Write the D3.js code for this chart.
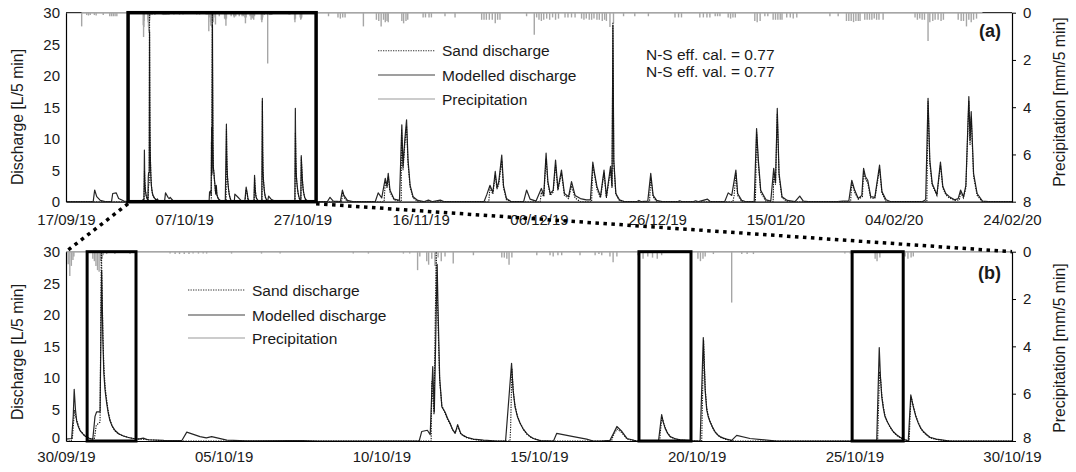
<!DOCTYPE html>
<html>
<head>
<meta charset="utf-8">
<script src="https://cdn.jsdelivr.net/npm/d3@7"></script>
<style>
  body { margin: 0; background: #fff; }
  text { font-family: "Liberation Sans", Arial, sans-serif; fill: #1a1a1a; }
</style>
</head>
<body>
<div id="chart"></div>
<script>

// All times are days since 17/09/19 00:00.
var topTicks = ["17/09/19", "07/10/19", "27/10/19", "16/11/19", "06/12/19", "26/12/19", "15/01/20", "04/02/20", "24/02/20"];
var bottomTicks = ["30/09/19", "05/10/19", "10/10/19", "15/10/19", "20/10/19", "25/10/19", "30/10/19"];
var dischargeTicks = [0, 5, 10, 15, 20, 25, 30];
var precipTicks = [0, 2, 4, 6, 8];
var legendLabels = ["Sand discharge", "Modelled discharge", "Precipitation"];
var nsLabels = ["N-S eff. cal. = 0.77", "N-S eff. val. = 0.77"];

// Modelled discharge [L/5 min]
var modelled = [
  [0,0],[4.6,0],[4.85,1.85],[5.2,0.8],[5.8,0.2],[6.6,0],
  [7.7,0],[7.9,1.3],[8.5,1.4],[8.9,0.5],[9.8,0.1],[11,0],
  [12.9,0.2],[13.0,0.3],[13.18,0.4],[13.23,4],[13.26,8.2],[13.3,5],[13.34,3.1],[13.39,2.3],[13.44,1.7],[13.52,1.2],
  [13.6,0.8],[13.75,0.4],[13.85,0.3],
  [13.92,3.9],[13.97,4.6],[14.08,4.6],[14.13,27],[14.17,16],[14.2,10.7],[14.24,8],[14.29,6],[14.34,4.4],[14.39,3.3],
  [14.46,2.4],[14.55,1.7],[14.67,1.15],[14.82,0.8],[14.98,0.55],
  [15.14,0.4],[15.3,0.3],[15.45,0.45],[15.6,0.2],[16.1,0.1],[16.67,0.05],[16.83,1.4],[17.25,0.7],[17.45,0.5],
  [17.62,0.7],[18.1,0.15],[18.7,0.02],[20.1,0.05],[20.5,0.05],[21,0],
  [24.2,0],[24.28,1.5],[24.46,1.7],[24.55,1.0],[24.63,11.8],[24.68,4.6],[24.77,28],[24.8,20.7],[24.85,10],[24.92,5.4],
  [25.02,4.6],[25.1,3.6],[25.18,2.8],[25.26,1.8],[25.34,1.2],[25.42,2.6],[25.52,1.2],[25.61,0.85],[25.71,0.6],
  [25.92,0.3],[26.24,0.15],[26.66,0],
  [26.94,0],[27.13,12.3],[27.18,8],[27.24,5.4],[27.32,3.8],[27.4,2.8],[27.5,1.9],[27.61,1.2],[27.72,0.7],[27.82,0.4],
  [28.03,0.05],
  [28.46,0],[28.56,1.2],[29.09,0.7],[29.51,0.3],[29.72,0],
  [29.94,0],[30.25,0.1],[30.36,1.2],[30.47,2.3],[30.63,1.5],[30.79,0.4],[31.1,0],
  [31.79,0],[31.89,4.2],[31.94,3.0],[32.0,2.0],[32.08,1.2],[32.16,0.7],[32.3,0.4],[32.47,0.2],[32.79,0.05],
  [33.11,0],[33.21,16.4],[33.27,8],[33.32,4.9],[33.37,3.8],[33.42,3.1],[33.5,2.2],[33.58,1.5],[33.66,1.0],[33.74,0.7],
  [33.85,0.45],[33.95,0.3],[34.11,0.1],[34.27,0.9],[34.69,0.4],[35.54,0],
  [38.71,0],[38.79,14.8],[38.83,10],[38.87,7.0],[38.92,5.2],[38.97,3.9],[39.05,3.0],[39.13,2.3],[39.23,1.5],
  [39.34,1.0],[39.45,0.6],[39.55,0.3],[39.71,0],[39.79,7.3],
  [39.87,5.4],[39.95,3.9],[40.03,2.8],[40.11,2.0],[40.19,1.5],[40.3,1.0],[40.4,0.6],[40.6,0.3],[40.82,0.15],[41.03,0],
  [44.2,0],[44.65,0.7],[45.2,0.1],[46.4,0],[46.75,1.85],[47.0,1.0],[47.6,0.2],[48.5,0],
  [52.3,0],[52.8,1.4],[53.4,0.6],[54.0,3.7],[54.3,2.5],[54.5,4.5],[54.8,1.8],[55.5,0.4],[56.4,0.2],[56.8,12.2],
  [57.0,5.6],[57.3,9.8],[57.6,13.0],[57.85,6.6],[58.2,2.6],[58.7,0.8],[59.5,0.2],[60.5,0],[61.3,0.25],[62,0],
  [63.3,0.25],[64,0],
  [70.7,0],[71.2,1.2],[71.7,2.6],[72.2,1.5],[72.6,4.8],[72.9,2.2],[73.2,3.2],[73.7,7.4],[74.0,2.5],[74.5,0.5],[75.3,0],
  [77.4,0],[77.9,1.85],[78.5,0.4],[79.5,0.1],[80.4,2.1],[80.8,1.0],[81.2,7.7],[81.5,3.2],[81.9,1.3],[82.4,1.8],
  [82.8,6.6],[83.2,2.0],[83.8,5.0],[84.3,1.3],[85.0,0.8],[85.5,3.2],[86.1,1.0],[87,0.5],[88,0.3],
  [88.7,0.3],[89.1,6.3],[89.4,4.5],[89.8,2.4],[90.4,0.8],[91.0,5.0],[91.4,0.8],[92.1,5.6],[92.35,2.5],[92.5,28],
  [92.65,6.6],[93.0,1.3],[93.6,0.3],[94.5,0],
  [96.5,0],[96.9,0.2],[97.3,0],[98.4,0.1],[98.9,4.5],[99.3,1.0],[99.9,0.2],[100.8,0],
  [103.4,0],[103.8,0.15],[104.2,0],[106,0],[106.5,0.15],[107,0],[108.5,0.4],[109,0],
  [111.4,0],[112.0,1.4],[112.6,1.0],[113.3,5.0],[113.6,1.3],[114.3,0.2],[115,0],
  [116.4,0],[116.8,11.6],[117.1,6.6],[117.5,1.8],[118.4,0.3],[119.2,0.1],[119.7,5.3],[120.0,3.0],[120.3,14.8],
  [120.6,4.5],[121.1,0.8],[122,0.2],[123.3,0],[124.1,0.9],[124.7,0.1],[125.5,0],
  [130.5,0],[131.4,0.1],[132.4,0.1],[132.9,3.4],[133.4,1.8],[134.0,0.5],[134.6,1.0],[134.9,5.3],[135.2,4.0],
  [135.6,3.4],[136.1,0.8],[136.8,0.7],[137.6,5.8],[138.0,1.6],[138.7,0.3],[139.5,0],
  [144.8,0],[145.4,0.3],[145.8,16.4],[146.1,6.6],[146.5,2.9],[147.3,1.1],[147.9,6.3],[148.3,2.4],[148.8,1.3],
  [149.4,0.8],[150.3,0.3],[150.9,0.5],[151.3,1.85],[151.8,0.8],[152.2,2.6],[152.7,16.7],[152.9,9.8],[153.1,14.3],
  [153.5,4.5],[154.1,1.3],[155,0.1],[156,0],[160,0]
];

// Sand discharge [L/5 min] (measured)
var sand = [
  [0,0],[13.15,0],[13.2,0.3],[13.27,4.9],[13.31,3.8],[13.36,3.0],[13.41,2.2],[13.46,1.6],[13.6,0.8],[13.75,0.4],
  [13.9,0.3],[13.96,2.5],[14.08,3.0],[14.12,31],[14.17,17],[14.2,12],[14.24,8.6],[14.29,6.5],[14.34,4.7],[14.39,3.5],
  [14.46,2.4],[14.55,1.6],[14.67,1.1],[14.82,0.8],[14.98,0.55],[15.14,0.4],[15.6,0.2],[16.2,0],
  [24.58,0],[24.6,9.5],[24.67,4.2],[24.74,30],[24.8,18],[24.85,9.5],[24.92,5.6],[25.02,4.4],[25.1,3.4],[25.18,2.7],
  [25.26,1.8],[25.34,1.3],[25.42,2.3],[25.52,1.1],[25.61,0.8],[25.71,0.5],[25.92,0.25],[26.3,0],
  [27.08,0],[27.1,2],[27.14,11.5],[27.19,7.6],[27.24,5.6],[27.32,3.9],[27.4,2.9],[27.5,1.9],[27.61,1.1],[27.72,0.65],
  [27.82,0.4],[28.1,0],
  [30.3,0],[30.35,0.8],[30.47,1.9],[30.63,1.3],[30.79,0.3],[31.1,0],
  [31.83,0],[31.85,1.5],[31.9,3.8],[31.95,2.9],[32.0,2.2],[32.08,1.3],[32.16,0.7],[32.3,0.35],[32.47,0.15],[32.8,0],
  [33.16,0],[33.22,16.0],[33.27,8.4],[33.32,5.2],[33.37,4.0],[33.42,3.2],[33.5,2.2],[33.58,1.4],[33.66,1.0],
  [33.74,0.6],[33.85,0.4],[33.95,0.2],[34.2,0],
  [38.74,0],[38.76,4],[38.8,11.0],[38.84,9.5],[38.87,7.3],[38.92,5.4],[38.97,4.1],[39.05,3.0],[39.13,2.2],[39.23,1.5],
  [39.34,0.9],[39.45,0.55],[39.55,0.3],[39.74,0],[39.76,3],[39.8,7.0],[39.87,5.6],[39.95,4.0],[40.03,2.9],[40.11,2.0],
  [40.19,1.4],[40.3,0.9],[40.4,0.5],[40.6,0.25],[40.82,0.1],[41.1,0],
  [46.6,0],[46.8,1.5],[47.1,0.6],[47.6,0],
  [53.8,0],[54.0,3.2],[54.3,2.2],[54.5,4.0],[54.8,1.5],[55.5,0.3],[56.7,0],[56.75,11.5],[57.0,5.0],[57.3,9.0],
  [57.6,12.0],[57.85,6.0],[58.2,2.3],[58.7,0.6],[59.5,0],
  [71.5,0],[71.7,2.2],[72.2,1.2],[72.6,4.2],[72.9,2.0],[73.2,2.8],[73.7,6.5],[74.0,2.2],[74.5,0.3],[75.3,0],
  [80.2,0],[80.4,1.5],[80.8,0.8],[81.2,6.8],[81.5,2.9],[81.9,1.0],[82.4,1.5],[82.8,5.8],[83.2,1.8],[83.8,4.5],
  [84.3,1.0],[85.0,0.5],[85.5,2.5],[86.1,0.6],[87,0],
  [88.9,0],[89.1,5.8],[89.4,4.2],[89.8,2.0],[90.4,0.6],[91.0,4.6],[91.4,0.6],[92.1,5.0],[92.35,2.2],[92.5,28.5],
  [92.65,6.0],[93.0,1.1],[93.6,0.2],[94.5,0],
  [98.7,0],[98.9,3.8],[99.3,0.8],[99.9,0],
  [112.8,0],[113.0,1.0],[113.3,4.5],[113.6,1.0],[114.3,0],
  [116.6,0],[116.8,11.0],[117.1,6.0],[117.5,1.5],[118.4,0],[119.6,0],[119.7,4.5],[120.0,2.7],[120.3,14.0],
  [120.6,4.0],[121.1,0.6],[122,0],
  [132.7,0],[132.9,3.0],[133.4,1.5],[134.0,0.4],[134.7,0.8],[134.9,4.8],[135.2,3.6],[135.6,3.0],[136.1,0.6],
  [136.8,0.5],[137.6,5.2],[138.0,1.4],[138.7,0],
  [145.6,0],[145.8,16.0],[146.1,6.0],[146.5,2.6],[147.3,1.0],[147.9,5.8],[148.3,2.2],[148.8,1.1],[149.4,0.6],
  [150.3,0.2],[151.1,0.3],[151.3,1.5],[151.8,0.6],[152.2,2.2],[152.7,16.0],[152.9,9.0],[153.1,13.5],[153.5,4.0],
  [154.1,1.0],[155,0],[160,0]
];

// Precipitation [mm/5 min]
var precip = [
  [2.65,0.58],[3.5,0.1],[3.8,0.12],[4.1,0.1],[4.8,0.1],[5.1,0.12],[6.3,0.1],[7.4,0.15],[7.7,0.15],[8.0,0.15],
  [8.3,0.15],[8.6,0.15],
  [13.07,0.53],[13.12,1.03],[13.17,0.6],[13.22,0.35],[13.25,0.2],
  [13.85,0.3],[13.9,0.4],[13.95,0.6],[14.0,0.78],[14.05,0.85],[14.1,0.4],[14.15,0.3],[14.18,0.15],
  [14.29,0.1],[14.55,0.1],[15.03,0.1],[16.3,0.08],[16.46,0.1],[16.6,0.1],[16.75,0.1],[16.9,0.1],[17.03,0.08],
  [17.2,0.08],[17.35,0.08],[17.46,0.08],[18.25,0.08],[19.2,0.08],[19.79,0.08],[22.11,0.08],[22.59,0.08],
  [23.7,0.08],[23.9,0.08],[24.15,0.78],[24.22,0.2],[24.44,0.4],[24.5,0.55],[24.6,0.3],[24.7,0.6],[24.8,0.25],
  [24.9,0.4],[25.02,0.2],[25.28,0.5],[25.92,0.15],
  [26.82,0.25],[26.9,0.25],[26.98,0.3],[27.05,0.55],[27.14,0.25],[27.93,0.15],[28.35,0.15],[28.45,0.2],
  [28.6,0.15],[28.72,0.15],[29.3,0.15],[29.78,0.15],[29.9,0.1],[29.99,0.15],[30.25,0.2],[30.35,0.45],[30.47,0.2],
  [31.14,0.15],[31.3,0.3],[31.45,0.2],[31.6,0.25],[31.75,0.3],[31.89,0.15],
  [33.04,0.3],[33.12,0.4],[33.2,0.3],[33.27,0.2],[33.53,0.1],
  [34.11,2.15],[34.43,0.1],[34.6,0.1],[34.8,0.1],
  [37.7,0.08],[37.87,0.08],[38.66,0.3],[38.72,0.4],[38.81,0.25],[39.61,0.2],[39.7,0.3],[39.8,0.25],[39.87,0.2],
  [44.4,0.15],[46.0,0.2],[46.4,0.25],[46.8,0.2],[47.2,0.2],[50.3,0.58],[52.5,0.3],[52.9,0.35],[53.3,0.58],
  [53.7,0.3],[54.0,0.4],[54.3,0.35],[54.5,0.4],[56.8,0.35],[57.1,0.45],[57.5,0.35],[57.8,0.3],[60.4,0.2],
  [60.8,0.2],[61.4,0.2],[61.8,0.2],[64.1,0.15],[65.8,0.2],[70.3,0.3],[70.7,0.3],[71.1,0.3],[71.6,0.3],[72.1,0.3],
  [72.6,0.45],[73.0,0.3],[73.4,0.3],[77.9,0.15],[79.2,0.93],[79.6,0.2],[80.0,0.3],[80.4,0.35],[80.8,0.3],
  [81.3,0.25],[81.8,0.3],[82.3,0.2],[82.8,0.3],[83.3,0.25],[84.4,0.2],[84.9,0.2],[85.5,0.2],[86.1,0.2],
  [87.2,0.25],[87.6,0.3],[88.0,0.25],[88.5,0.3],[88.9,0.3],[89.3,0.25],[89.8,0.3],[90.2,0.3],[90.7,0.35],
  [91.1,0.3],[91.4,0.35],[92.0,0.6],[92.6,0.45],[94.3,0.15],[96.2,0.15],[98.5,0.15],[103.0,0.2],[103.6,0.2],
  [104.1,0.2],[107.2,0.2],[107.8,0.2],[108.4,0.2],[108.9,0.2],[109.8,0.15],[110.2,0.15],[110.6,0.15],
  [112.0,0.2],[112.4,0.25],[112.8,0.2],[113.2,0.2],[116.5,0.35],[116.9,0.4],[117.4,0.35],[118.2,0.15],
  [118.7,0.15],[119.6,0.3],[120.0,0.3],[120.4,0.3],[120.8,0.3],[121.1,0.3],[121.9,0.2],[122.5,0.2],[123.0,0.25],
  [123.6,0.2],[129.2,0.15],[130.6,0.15],[132.0,0.35],[132.4,0.35],[132.8,0.35],[133.2,0.4],[133.6,0.35],
  [134.0,0.35],[134.3,0.35],[135.1,0.3],[135.5,0.3],[135.9,0.3],[136.3,0.3],[136.7,0.25],[137.1,0.3],
  [137.5,0.3],[138.2,0.3],[143.6,0.2],[144.0,0.3],[144.4,0.25],[144.8,0.3],[145.2,0.3],[145.8,1.2],[146.1,0.4],
  [146.6,0.35],[147.0,0.3],[147.5,0.3],[148.0,0.35],[148.4,0.3],[150.9,0.3],[151.4,0.35],[151.8,0.35],
  [152.3,0.58],[152.7,0.3],[153.1,0.4],[153.5,0.3],[154.0,0.25]
];

// zoom boxes (days)
var zoomBoxTop = [[10.5, 42.3]];
var zoomBoxBottom = [[13.67, 15.22], [31.17, 32.82], [37.93, 39.55]];

var parseDay = d3.utcParse("%d/%m/%y");
var origin = parseDay("17/09/19");
function toDay(s) { return (parseDay(s) - origin) / 864e5; }

var W = 1076, H = 472;
var svg = d3.select("#chart").append("svg").attr("width", W).attr("height", H);

var panels = [
  { id: "a", top: 12.7, bottom: 201.7, left: 66, right: 1012, ticks: topTicks, xPad: 12.5,
    boxes: zoomBoxTop, boxWidth: 3.5, legendX: 378, legendY: [50.7, 75, 99], showNS: true, labelY: 37, yLabelMid: 117 },
  { id: "b", top: 251.7, bottom: 441, left: 66, right: 1012, ticks: bottomTicks, xPad: 10.5,
    boxes: zoomBoxBottom, boxWidth: 3, legendX: 188, legendY: [290, 315, 338], showNS: false, labelY: 279, yLabelMid: 352 }
];

function drawPanel(p) {
  var days = p.ticks.map(toDay);
  var x = d3.scaleLinear().domain([days[0], days[days.length - 1]]).range([p.left, p.right]);
  var y = d3.scaleLinear().domain([0, 30]).range([p.bottom, p.top]);
  var yp = d3.scaleLinear().domain([0, 8]).range([p.top, p.bottom]);
  p.x = x; p.y = y;

  var g = svg.append("g").attr("id", "panel_" + p.id);

  g.append("clipPath").attr("id", "clip_" + p.id)
    .append("rect").attr("x", p.left).attr("y", p.top)
    .attr("width", p.right - p.left).attr("height", p.bottom - p.top);

  // top frame line (black) under precip baseline
  g.append("line").attr("x1", p.left).attr("x2", p.right).attr("y1", p.top).attr("y2", p.top)
    .attr("stroke", "#000").attr("stroke-width", 1);

  var pr = precip.filter(function(d) { return d[0] >= x.domain()[0] && d[0] <= x.domain()[1]; });
  var base0 = Math.max(x.domain()[0], p.id == "a" ? pr[0][0] : x.domain()[0]);
  var base1 = Math.min(x.domain()[1], p.id == "a" ? pr[pr.length - 1][0] + 1 : x.domain()[1]);
  g.append("line").attr("x1", x(base0)).attr("x2", x(base1)).attr("y1", p.top).attr("y2", p.top)
    .attr("stroke", "#a6a6a6").attr("stroke-width", 1.2);

  g.append("g").selectAll("line").data(pr).enter().append("line")
    .attr("x1", function(d) { return x(d[0]); })
    .attr("x2", function(d) { return x(d[0]); })
    .attr("y1", yp(0))
    .attr("y2", function(d) { return yp(d[1]); })
    .attr("stroke", "#a6a6a6").attr("stroke-width", 1.4);

  var line = d3.line().x(function(d) { return x(d[0]); }).y(function(d) { return y(d[1]); });
  var lines = g.append("g").attr("clip-path", "url(#clip_" + p.id + ")");
  lines.append("path").datum(modelled).attr("d", line)
    .attr("fill", "none").attr("stroke", "#262626").attr("stroke-width", 1.2)
    .attr("stroke-linejoin", "round");
  lines.append("path").datum(sand).attr("d", line)
    .attr("fill", "none").attr("stroke", "#111").attr("stroke-width", 1.1)
    .attr("stroke-dasharray", "1.3,1.2");

  // axes
  var xAxis = g.append("g").attr("transform", "translate(0," + p.bottom + ")")
    .call(d3.axisBottom(x).tickValues(days).tickFormat(function(d, i) { return p.ticks[i]; })
      .tickSize(0).tickPadding(p.xPad));
  var yAxis = g.append("g").attr("transform", "translate(" + p.left + ",0)")
    .call(d3.axisLeft(y).tickValues(dischargeTicks).tickSize(0).tickPadding(6));
  var pAxis = g.append("g").attr("transform", "translate(" + p.right + ",0)")
    .call(d3.axisRight(yp).tickValues(precipTicks).tickSizeInner(4).tickSizeOuter(0).tickPadding(7));
  [xAxis, yAxis, pAxis].forEach(function(a) {
    a.select(".domain").attr("stroke", "#000").attr("stroke-width", 1.2);
    a.selectAll(".tick line").attr("stroke", "#000");
    a.selectAll("text").style("font-size", "15px").style("fill", "#1a1a1a")
      .style("font-family", '"Liberation Sans", Arial, sans-serif');
  });
  // keep the "0" / "8" labels of the lower panel clear of the date labels
  if (p.id == "b") {
    yAxis.selectAll(".tick text").filter(function(d) { return d == 0; }).attr("dy", "0.12em");
    pAxis.selectAll(".tick text").filter(function(d) { return d == 8; }).attr("dy", "0.12em");
  }

  // axis labels
  g.append("text").attr("transform", "translate(23," + p.yLabelMid + ") rotate(-90)")
    .attr("text-anchor", "middle").style("font-size", "15.8px").text("Discharge [L/5 min]");
  g.append("text").attr("transform", "translate(1065," + (p.id == "a" ? 102 : 348) + ") rotate(-90)")
    .attr("text-anchor", "middle").style("font-size", "15.8px").text("Precipitation [mm/5 min]");

  // panel letter
  g.append("text").attr("x", 1001).attr("y", p.labelY).attr("text-anchor", "end")
    .style("font-size", "18px").style("font-weight", "bold").text("(" + p.id + ")");

  // legend
  var styles = [
    { stroke: "#333", dash: "1.3,1.2", w: 1.1 },
    { stroke: "#404040", dash: null, w: 1.2 },
    { stroke: "#9a9a9a", dash: null, w: 1.2 }
  ];
  legendLabels.forEach(function(lab, i) {
    var ly = p.legendY[i];
    g.append("line").attr("x1", p.legendX).attr("x2", p.legendX + 57).attr("y1", ly).attr("y2", ly)
      .attr("stroke", styles[i].stroke).attr("stroke-width", styles[i].w)
      .attr("stroke-dasharray", styles[i].dash);
    g.append("text").attr("x", p.legendX + 64).attr("y", ly + 5.5).style("font-size", "15.5px").text(lab);
  });

  if (p.showNS) {
    nsLabels.forEach(function(t, i) {
      g.append("text").attr("x", 646).attr("y", 60 + i * 17).style("font-size", "15.5px").text(t);
    });
  }

  // zoom boxes
  g.append("g").selectAll("rect").data(p.boxes).enter().append("rect")
    .attr("x", function(d) { return x(d[0]); })
    .attr("y", y(30))
    .attr("width", function(d) { return x(d[1]) - x(d[0]); })
    .attr("height", y(0) - y(30))
    .attr("fill", "none").attr("stroke", "#000").attr("stroke-width", p.boxWidth);
}

panels.forEach(drawPanel);

// dotted connectors from the box in (a) to panel (b)
var A = panels[0], B = panels[1], box = zoomBoxTop[0];
[[box[0], B.x.domain()[0]], [box[1], B.x.domain()[1]]].forEach(function(c) {
  svg.append("line")
    .attr("x1", A.x(c[0])).attr("y1", A.y(0) + 2)
    .attr("x2", B.x(c[1])).attr("y2", B.y(30))
    .attr("stroke", "#000").attr("stroke-width", 3.5)
    .attr("stroke-dasharray", "3.5,4.5");
});

</script>
</body>
</html>
